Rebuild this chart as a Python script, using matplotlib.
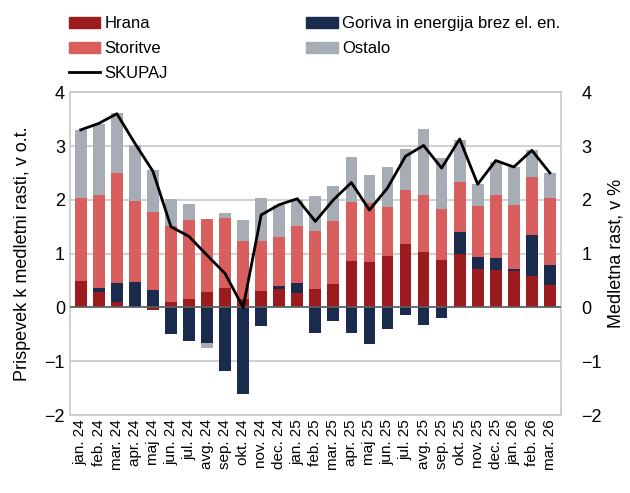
import numpy as np
import matplotlib.pyplot as plt
from matplotlib.patches import Patch
from matplotlib.lines import Line2D

plt.rcParams['font.family'] = ['Liberation Sans', 'DejaVu Sans']

months = ['jan. 24', 'feb. 24', 'mar. 24', 'apr. 24', 'maj 24', 'jun. 24', 'jul. 24',
          'avg. 24', 'sep. 24', 'okt. 24', 'nov. 24', 'dec. 24', 'jan. 25', 'feb. 25',
          'mar. 25', 'apr. 25', 'maj 25', 'jun. 25', 'jul. 25', 'avg. 25', 'sep. 25',
          'okt. 25', 'nov. 25', 'dec. 25', 'jan. 26', 'feb. 26', 'mar. 26']

hrana = [0.49, 0.29, 0.11, 0.00, -0.05, 0.11, 0.16, 0.29, 0.37, 0.16, 0.31, 0.34, 0.27, 0.34,
         0.44, 0.87, 0.85, 0.96, 1.17, 1.03, 0.89, 1.00, 0.72, 0.69, 0.67, 0.58, 0.42]
goriva = [0.00, 0.08, 0.35, 0.48, 0.32, -0.50, -0.63, -0.66, -1.18, -1.61, -0.35, 0.06, 0.18, -0.47,
          -0.25, -0.48, -0.67, -0.40, -0.14, -0.33, -0.19, 0.40, 0.22, 0.22, 0.04, 0.76, 0.36]
storitve = [1.55, 1.72, 2.03, 1.50, 1.46, 1.41, 1.47, 1.36, 1.30, 1.08, 0.93, 0.91, 1.06, 1.08,
            1.16, 1.09, 1.09, 0.90, 1.02, 1.06, 0.94, 0.93, 0.94, 1.18, 1.20, 1.09, 1.26]
ostalo = [1.26, 1.32, 1.12, 1.04, 0.78, 0.49, 0.30, -0.10, 0.09, 0.38, 0.80, 0.60, 0.49, 0.65,
          0.65, 0.84, 0.53, 0.75, 0.75, 1.23, 0.94, 0.78, 0.42, 0.62, 0.70, 0.49, 0.46]
skupaj = [3.30, 3.42, 3.60, 3.05, 2.53, 1.50, 1.32, 0.97, 0.63, 0.0, 1.72, 1.91, 2.02, 1.60,
          2.00, 2.32, 1.81, 2.22, 2.81, 3.01, 2.59, 3.13, 2.29, 2.73, 2.61, 2.92, 2.50]

series = [('Hrana', hrana, '#9b1b1f'),
          ('Goriva in energija brez el. en.', goriva, '#1b2b4d'),
          ('Storitve', storitve, '#d95f5f'),
          ('Ostalo', ostalo, '#a6adb4')]

fig = plt.figure(figsize=(6.3, 4.93), dpi=100)
ax = fig.add_axes([0.111, 0.158, 0.779, 0.655])
x = np.arange(len(months))

pos = np.zeros(len(months))
neg = np.zeros(len(months))
for name, vals, col in series:
    v = np.array(vals)
    bottom = np.where(v >= 0, pos, neg)
    ax.bar(x, v, 0.65, bottom=bottom, color=col, zorder=2)
    pos = pos + np.clip(v, 0, None)
    neg = neg + np.clip(v, None, 0)

ax.set_ylim(-2, 4)
ax.set_xlim(-0.6, len(months) - 0.4)
ax.set_yticks(range(-2, 5))
ax.yaxis.grid(True, color='#c8c8c8', lw=1.2, zorder=0)
ax.axhline(0, color='#5a6068', lw=1.2, zorder=3)
for s in ax.spines.values():
    s.set_color('#c8c8c8')
    s.set_linewidth(1.2)
ax.set_xticks(x)
ax.set_xticklabels(months, rotation=90, fontsize=11)
ax.tick_params(length=0, labelsize=13)
ax.tick_params(axis='x', labelsize=11, pad=3)
ax.set_ylabel('Prispevek k medletni rasti, v o.t.', fontsize=13, labelpad=10)

ax2 = ax.twinx()
ax2.plot(x, skupaj, color='black', lw=2, zorder=4)
ax2.set_ylim(-2, 4)
ax2.set_yticks(range(-2, 5))
ax2.tick_params(length=0, labelsize=13, pad=15)
for s in ax2.spines.values():
    s.set_visible(False)
ax2.set_ylabel('Medletna rast, v %', fontsize=13, labelpad=4)

handles = [Patch(color='#9b1b1f'), Patch(color='#d95f5f'), Line2D([], [], color='black', lw=2),
           Patch(color='#1b2b4d'), Patch(color='#a6adb4')]
labels = ['Hrana', 'Storitve', 'SKUPAJ', 'Goriva in energija brez el. en.', 'Ostalo']
fig.legend(handles, labels, ncol=2, loc='upper left', bbox_to_anchor=(0.085, 0.997),
           frameon=False, fontsize=12, handlelength=1.9, handleheight=0.6,
           handletextpad=0.25, columnspacing=8.3, labelspacing=0.58)

fig.savefig('out.png', dpi=100)
